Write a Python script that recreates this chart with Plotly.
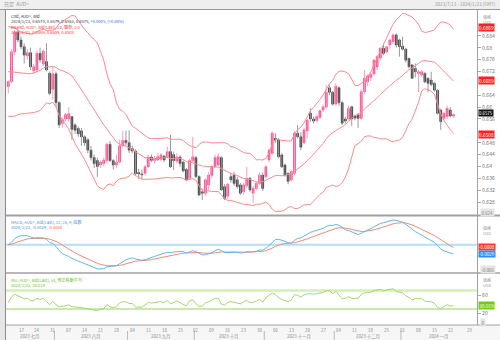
import numpy as np
import pandas as pd
import plotly.graph_objects as go

W, H = 500, 340
FONT = "Noto Sans CJK JP, Noto Sans, sans-serif"

# ---------------- data ----------------
dates = pd.bdate_range("2023-07-11", "2024-01-23")  # 141 weekdays

opens = [0.6669, 0.6686, 0.6786, 0.6852, 0.6826, 0.6803, 0.6772, 0.6783, 0.6722, 0.6725,
         0.6781, 0.6745, 0.6753, 0.6714, 0.6660, 0.6712, 0.6615, 0.6545, 0.6560, 0.6560,
         0.6568, 0.6540, 0.6528, 0.6520, 0.6500, 0.6490, 0.6455, 0.6430, 0.6420, 0.6405,
         0.6410, 0.6420, 0.6475, 0.6420, 0.6405, 0.6415, 0.6470, 0.6488, 0.6480, 0.6460,
         0.6452, 0.6380, 0.6375, 0.6377, 0.6399, 0.6432, 0.6420, 0.6422, 0.6424, 0.6435,
         0.6433, 0.6450, 0.6440, 0.6418, 0.6432, 0.6415, 0.6390, 0.6360, 0.6420, 0.6430,
         0.6366, 0.6315, 0.6310, 0.6338, 0.6370, 0.6400, 0.6405, 0.6430, 0.6332, 0.6300,
         0.6366, 0.6371, 0.6355, 0.6338, 0.6315, 0.6335, 0.6360, 0.6310, 0.6326, 0.6343,
         0.6371, 0.6366, 0.6422, 0.6444, 0.6495, 0.6489, 0.6439, 0.6405, 0.6377, 0.6355,
         0.6377, 0.6512, 0.6500, 0.6480, 0.6520, 0.6580, 0.6560, 0.6555, 0.6565, 0.6590,
         0.6600, 0.6665, 0.6650, 0.6610, 0.6665, 0.6615, 0.6560, 0.6560, 0.6601, 0.6570,
         0.6575, 0.6562, 0.6652, 0.6685, 0.6700, 0.6712, 0.6735, 0.6765, 0.6798, 0.6786,
         0.6809, 0.6820, 0.6843, 0.6826, 0.6805, 0.6795, 0.6764, 0.6742, 0.6730, 0.6713,
         0.6708, 0.6713, 0.6697, 0.6691, 0.6680, 0.6657, 0.6590, 0.6562, 0.6568, 0.6590,
         0.6570]
highs = [0.6690, 0.6795, 0.6860, 0.6862, 0.6838, 0.6815, 0.6795, 0.6800, 0.6745, 0.6790,
         0.6800, 0.6795, 0.6815, 0.6720, 0.6735, 0.6720, 0.6620, 0.6565, 0.6580, 0.6600,
         0.6570, 0.6545, 0.6535, 0.6530, 0.6505, 0.6495, 0.6470, 0.6440, 0.6430, 0.6420,
         0.6430, 0.6480, 0.6485, 0.6425, 0.6440, 0.6490, 0.6520, 0.6520, 0.6522, 0.6470,
         0.6458, 0.6392, 0.6390, 0.6405, 0.6440, 0.6440, 0.6435, 0.6445, 0.6445, 0.6440,
         0.6467, 0.6506, 0.6450, 0.6445, 0.6438, 0.6420, 0.6395, 0.6425, 0.6500, 0.6435,
         0.6370, 0.6325, 0.6360, 0.6380, 0.6405, 0.6440, 0.6445, 0.6435, 0.6340, 0.6345,
         0.6375, 0.6383, 0.6365, 0.6345, 0.6345, 0.6399, 0.6365, 0.6335, 0.6350, 0.6380,
         0.6380, 0.6405, 0.6460, 0.6518, 0.6512, 0.6495, 0.6445, 0.6410, 0.6380, 0.6388,
         0.6520, 0.6540, 0.6515, 0.6530, 0.6562, 0.6596, 0.6568, 0.6575, 0.6592, 0.6608,
         0.6674, 0.6674, 0.6655, 0.6680, 0.6670, 0.6620, 0.6568, 0.6605, 0.6605, 0.6575,
         0.6580, 0.6660, 0.6725, 0.6710, 0.6718, 0.6762, 0.6775, 0.6802, 0.6814, 0.6806,
         0.6830, 0.6848, 0.6848, 0.6831, 0.6837, 0.6800, 0.6766, 0.6745, 0.6747, 0.6725,
         0.6725, 0.6718, 0.6700, 0.6719, 0.6685, 0.6660, 0.6595, 0.6585, 0.6605, 0.6600,
         0.6579]
lows = [0.6646, 0.6680, 0.6775, 0.6818, 0.6795, 0.6747, 0.6760, 0.6725, 0.6712, 0.6718,
        0.6750, 0.6738, 0.6720, 0.6640, 0.6625, 0.6600, 0.6530, 0.6530, 0.6550, 0.6550,
        0.6490, 0.6510, 0.6500, 0.6470, 0.6470, 0.6445, 0.6420, 0.6395, 0.6365, 0.6395,
        0.6400, 0.6410, 0.6415, 0.6390, 0.6395, 0.6410, 0.6465, 0.6470, 0.6445, 0.6445,
        0.6370, 0.6357, 0.6357, 0.6370, 0.6395, 0.6415, 0.6410, 0.6418, 0.6418, 0.6415,
        0.6428, 0.6395, 0.6388, 0.6410, 0.6399, 0.6380, 0.6350, 0.6355, 0.6415, 0.6360,
        0.6300, 0.6287, 0.6300, 0.6320, 0.6360, 0.6395, 0.6400, 0.6318, 0.6287, 0.6290,
        0.6345, 0.6335, 0.6325, 0.6305, 0.6305, 0.6330, 0.6315, 0.6276, 0.6320, 0.6338,
        0.6318, 0.6360, 0.6415, 0.6440, 0.6480, 0.6428, 0.6395, 0.6365, 0.6340, 0.6350,
        0.6370, 0.6495, 0.6455, 0.6475, 0.6495, 0.6550, 0.6545, 0.6550, 0.6560, 0.6584,
        0.6595, 0.6640, 0.6605, 0.6605, 0.6605, 0.6540, 0.6545, 0.6555, 0.6537, 0.6555,
        0.6530, 0.6555, 0.6645, 0.6670, 0.6688, 0.6705, 0.6725, 0.6758, 0.6775, 0.6780,
        0.6795, 0.6812, 0.6800, 0.6770, 0.6790, 0.6750, 0.6730, 0.6695, 0.6700, 0.6650,
        0.6700, 0.6680, 0.6650, 0.6670, 0.6652, 0.6575, 0.6523, 0.6555, 0.6560, 0.6565,
        0.6563]
closes = [0.6686, 0.6786, 0.6852, 0.6826, 0.6803, 0.6775, 0.6783, 0.6736, 0.6736, 0.6781,
          0.6759, 0.6788, 0.6725, 0.6646, 0.6712, 0.6615, 0.6540, 0.6558, 0.6575, 0.6578,
          0.6525, 0.6522, 0.6510, 0.6500, 0.6480, 0.6455, 0.6430, 0.6410, 0.6400, 0.6415,
          0.6422, 0.6475, 0.6420, 0.6405, 0.6415, 0.6470, 0.6488, 0.6480, 0.6455, 0.6452,
          0.6376, 0.6375, 0.6372, 0.6399, 0.6432, 0.6421, 0.6427, 0.6433, 0.6439, 0.6422,
          0.6450, 0.6399, 0.6420, 0.6432, 0.6410, 0.6385, 0.6355, 0.6420, 0.6433, 0.6366,
          0.6304, 0.6310, 0.6355, 0.6371, 0.6400, 0.6430, 0.6433, 0.6321, 0.6293, 0.6340,
          0.6355, 0.6343, 0.6332, 0.6310, 0.6338, 0.6360, 0.6321, 0.6326, 0.6343, 0.6371,
          0.6326, 0.6399, 0.6455, 0.6512, 0.6489, 0.6433, 0.6399, 0.6371, 0.6350, 0.6383,
          0.6512, 0.6500, 0.6465, 0.6523, 0.6556, 0.6560, 0.6553, 0.6568, 0.6588, 0.6601,
          0.6650, 0.6650, 0.6610, 0.6670, 0.6615, 0.6546, 0.6553, 0.6595, 0.6560, 0.6563,
          0.6562, 0.6652, 0.6697, 0.6705, 0.6710, 0.6758, 0.6770, 0.6798, 0.6781, 0.6803,
          0.6826, 0.6843, 0.6809, 0.6803, 0.6795, 0.6758, 0.6736, 0.6697, 0.6719, 0.6719,
          0.6719, 0.6685, 0.6680, 0.6676, 0.6657, 0.6579, 0.6551, 0.6579, 0.6596, 0.6570,
          0.6575]
# closes before the first visible bar (warm-up of the 20-day bands / RSI)
prior_closes = [0.6770, 0.6795, 0.6860, 0.6865, 0.6835, 0.6785, 0.6800, 0.6760, 0.6685, 0.6685,
                0.6680, 0.6630, 0.6630, 0.6665, 0.6670, 0.6700, 0.6680, 0.6620, 0.6670, 0.6685]

# tick labels visible on the price axis (the others sit under the value tags)
price_ticks = [0.628, 0.632, 0.636, 0.64, 0.644, 0.648, 0.656, 0.66, 0.664,
               0.672, 0.676, 0.68, 0.684]
rsi_ticks = [20, 60]
month_labels = ["2023 七月", "2023 八月", "2023 九月", "2023 十月",
                "2023 十一月", "2023 十二月", "2024 一月"]

# ---------------- indicators ----------------
n = len(closes)
idx = np.arange(n)
o = np.array(opens); h = np.array(highs); l = np.array(lows); c = np.array(closes)
allc = pd.Series(prior_closes + closes)
bb_mid = allc.rolling(20).mean().iloc[-n:].values
bb_sd = allc.rolling(20).std(ddof=0).iloc[-n:].values
bb_up = bb_mid + 2 * bb_sd
bb_lo = bb_mid - 2 * bb_sd

cs = pd.Series(closes)
macd = (cs.ewm(span=12, adjust=False).mean() - cs.ewm(span=26, adjust=False).mean()).values
signal = pd.Series(macd).ewm(span=9, adjust=False).mean().values

d = allc.diff().values[1:]
g = np.where(d > 0, d, 0.0); ls = np.where(d < 0, -d, 0.0)
ag = g[:14].mean(); al = ls[:14].mean()
rsi_all = [np.nan] * 14
for k in range(14, len(d)):
    ag = (ag * 13 + g[k]) / 14
    al = (al * 13 + ls[k]) / 14
    rsi_all.append(100 - 100 / (1 + ag / al) if al > 0 else 100)
rsi = np.array(rsi_all[-n:])

# ---------------- geometry helpers ----------------
def py(ypx):
    return 1 - ypx / H

def pxx(xpx):
    return xpx / W

XD = [pxx(5), pxx(477)]
XR = [-1.04, 147.4]

fig = go.Figure()

UP, UPW = "#ff2a7a", "#ff9cc0"
DN, DNW = "#1c1c1c", "#9a9a9a"
upm = c >= o
for mask, col in ((upm, UPW), (~upm, DNW)):
    xs, ys = [], []
    for i in np.where(mask)[0]:
        xs += [i, i, None]; ys += [l[i], h[i], None]
    fig.add_trace(go.Scatter(x=xs, y=ys, mode="lines", line=dict(color=col, width=1),
                             xaxis="x", yaxis="y", hoverinfo="skip"))
for mask, col in ((upm, UP), (~upm, DN)):
    ii = np.where(mask)[0]
    fig.add_trace(go.Bar(x=ii, y=np.abs(c[ii] - o[ii]), base=np.minimum(o[ii], c[ii]),
                         width=0.62, marker=dict(color=col, line=dict(color=col, width=0.5)),
                         xaxis="x", yaxis="y"))
for band in (bb_up, bb_mid, bb_lo):
    fig.add_trace(go.Scatter(x=idx, y=band, mode="lines", line=dict(color="#ff8a8a", width=1),
                             xaxis="x", yaxis="y"))

fig.add_trace(go.Scatter(x=idx, y=signal, mode="lines", line=dict(color="#f58b74", width=1),
                         xaxis="x2", yaxis="y2"))
fig.add_trace(go.Scatter(x=idx, y=macd, mode="lines", line=dict(color="#62b6f2", width=1),
                         xaxis="x2", yaxis="y2"))
fig.add_trace(go.Scatter(x=idx, y=rsi, mode="lines", line=dict(color="#a3d96a", width=1),
                         xaxis="x3", yaxis="y3"))

mx, mn = np.nanmax(np.r_[macd, signal]), np.nanmin(np.r_[macd, signal])
a = (mx - mn) / (269 - 220)
macd_range = [mn - 3 * a, mx + 3 * a]

ax_common = dict(showgrid=False, zeroline=False, showline=False)
fig.update_layout(
    width=W, height=H, margin=dict(l=0, r=0, t=0, b=0),
    paper_bgcolor="white", plot_bgcolor="white", showlegend=False,
    barmode="overlay", font=dict(family=FONT, size=5, color="#666"),
    xaxis=dict(domain=XD, range=XR, showticklabels=False, anchor="y", **ax_common),
    xaxis2=dict(domain=XD, range=XR, showticklabels=False, anchor="y2", **ax_common),
    xaxis3=dict(domain=XD, range=XR, showticklabels=False, anchor="y3", **ax_common),
    yaxis=dict(domain=[py(215), py(10)], range=[0.62367, 0.69269], side="right",
               tickvals=price_ticks, ticktext=[f"{v:.3f}".rstrip("0") for v in price_ticks],
               ticks="outside", ticklen=3, tickcolor="#aaa", anchor="x",
               tickfont=dict(size=5.2, color="#777"), **ax_common),
    yaxis2=dict(domain=[py(272), py(217)], range=macd_range, side="right",
                showticklabels=False, anchor="x2", **ax_common),
    yaxis3=dict(domain=[py(325), py(273)], range=[-4.6, 107.8], side="right",
                tickvals=rsi_ticks, ticktext=[str(v) for v in rsi_ticks],
                ticks="outside", ticklen=3, tickcolor="#aaa", anchor="x3",
                tickfont=dict(size=5.2, color="#777"), **ax_common),
)

shapes = []
def rect(x0, y0, x1, y1, fill, line=None, layer="below"):
    shapes.append(dict(type="rect", xref="paper", yref="paper", x0=pxx(x0), x1=pxx(x1),
                       y0=py(y1), y1=py(y0), fillcolor=fill,
                       line=dict(width=0) if line is None else dict(color=line, width=1),
                       layer=layer))
def hline(x0, x1, ypx, col, w=1):
    shapes.append(dict(type="line", xref="paper", yref="paper", x0=pxx(x0), x1=pxx(x1),
                       y0=py(ypx), y1=py(ypx), line=dict(color=col, width=w), layer="above"))
def vline(xpx, y0, y1, col, w=1):
    shapes.append(dict(type="line", xref="paper", yref="paper", x0=pxx(xpx), x1=pxx(xpx),
                       y0=py(y0), y1=py(y1), line=dict(color=col, width=w), layer="above"))

rect(0, 0, 500, 9, "#efefef")
rect(0, 9, 5, 340, "#e6e6e6")
rect(5, 325, 500, 340, "#f6f6f6")
hline(0, 500, 9.5, "#9a9a9a")
hline(5, 500, 215.5, "#a0a0a0", 2)
hline(5, 500, 273, "#a0a0a0", 1.5)
hline(5, 500, 325, "#a0a0a0", 1)
vline(5.5, 9.5, 340, "#8a8a8a")
vline(477.5, 9.5, 325, "#a0a0a0")

# reference lines in indicator panels
shapes.append(dict(type="line", xref="paper", yref="y2", x0=XD[0], x1=XD[1], y0=0, y1=0,
                   line=dict(color="#b5def9", width=2), layer="below"))
shapes.append(dict(type="line", xref="paper", yref="y3", x0=XD[0], x1=XD[1], y0=70, y1=70,
                   line=dict(color="#d3f0b4", width=2.5), layer="below"))
shapes.append(dict(type="line", xref="paper", yref="y3", x0=XD[0], x1=XD[1], y0=30, y1=30,
                   line=dict(color="#97d25e", width=1), layer="below"))

# month separators on the time axis
month_starts = [i for i in range(1, n) if dates[i].month != dates[i - 1].month]
def xpix(i):
    return 5 + (i - XR[0]) / (XR[1] - XR[0]) * 472
for i in month_starts:
    vline(xpix(i - 0.5), 331, 340, "#b8b8b8")
fig.update_layout(shapes=shapes)

ann = []
def text(xpx, ypx, s, size=4.6, color="#333", xanchor="left", bg=None, yanchor="middle"):
    d = dict(xref="paper", x=pxx(xpx), yref="paper", y=py(ypx),
             text=s, showarrow=False, xanchor=xanchor, yanchor=yanchor, align="left",
             font=dict(size=size, color=color, family=FONT))
    if bg:
        d.update(bgcolor=bg, borderpad=0.5)
    ann.append(d)

text(2, 4.5, "日足  AUD=", 5, "#9a9a9a")
text(498, 4.5, "2023/7/11 - 2024/1/23 (GMT)", 4.6, "#9a9a9a", "right")

# panel legends (one multi-line block per panel)
RED = "#ff3a3a"
text(9, 10.8,
     "Cnd, AUD=, Bid<br>"
     "2024/1/23, 0.6570, 0.6579, 0.6563, 0.6575, "
     "<span style='color:#3b5ef0'>+0.0005, (+0.08%)</span><br>"
     f"<span style='color:{RED}'>BBand, AUD=, Bid(Last), 20, 簡単, 2.0</span><br>"
     f"<span style='color:{RED}'>2024/1/23, 0.6869, 0.6689, 0.6508</span>",
     4.1, "#333", yanchor="top")
text(9, 217.4,
     "MACD, AUD=, Bid(Last), 12, 26, 9, 指数<br>"
     "2024/1/23, -0.0029, <span style='color:#ff6040'>-0.0008</span>",
     4.1, "#3d9be9", yanchor="top")
text(9, 275.4,
     "RSI, AUD=, Bid(Last), 14, 修正移動平均<br>2024/1/23, 38.019",
     4.1, "#6cbf2a", yanchor="top")

text(481, 11.8, "価格<br>USD", 4.0, "#9a9a9a", yanchor="top")
text(481, 223, "価格<br>USD", 4.0, "#9a9a9a", yanchor="top")
text(481, 275.2, "価格<br>USD", 4.0, "#9a9a9a", yanchor="top")

# value tags on the right axis
def tag(val, yref, s, bg, size=4.8, yshift=0):
    ann.append(dict(xref="paper", x=pxx(478), yref=yref, y=val, text=s, showarrow=False,
                    xanchor="left", yanchor="middle", yshift=yshift, bgcolor=bg, borderpad=0,
                    font=dict(size=size, color="white", family=FONT)))
tag(0.6869, "y", "0.6869", "#ff2020")
tag(0.6689, "y", "0.6689", "#ff2020")
tag(0.6508, "y", "0.6508", "#ff2020")
tag(0.6575, "y", "0.6575", "#111111", 4.3, 1.2)
tag(-0.0008, "y2", "-0.0008", "#ff3b1f", 4.5)
tag(-0.0029, "y2", "-0.0029", "#2b8ef5", 4.5)
tag(38.019, "y3", "38.019", "#6fcc1a")
text(480, 212.5, "0.624", 4.4, "#888", bg="#e4e4e4")
text(480, 269.5, "-0.006", 4.4, "#888", bg="#e4e4e4")
text(480, 322, "0", 4.4, "#888", bg="#e4e4e4")

# day and month labels on the time axis
mondays = [i for i in range(n) if dates[i].weekday() == 0]
for i in mondays:
    text(xpix(i), 330, f"{dates[i].day:02d}", 4.4, "#8a8a8a", "center")
text(xpix(n + 4), 330, "29", 4.4, "#8a8a8a", "center")
bounds = [XR[0]] + [m - 0.5 for m in month_starts] + [XR[1]]
for k, lab in enumerate(month_labels):
    text((xpix(bounds[k]) + xpix(bounds[k + 1])) / 2, 336.3, lab, 4.4, "#8a8a8a", "center")

fig.update_layout(annotations=ann)
fig.write_html("out.html")
